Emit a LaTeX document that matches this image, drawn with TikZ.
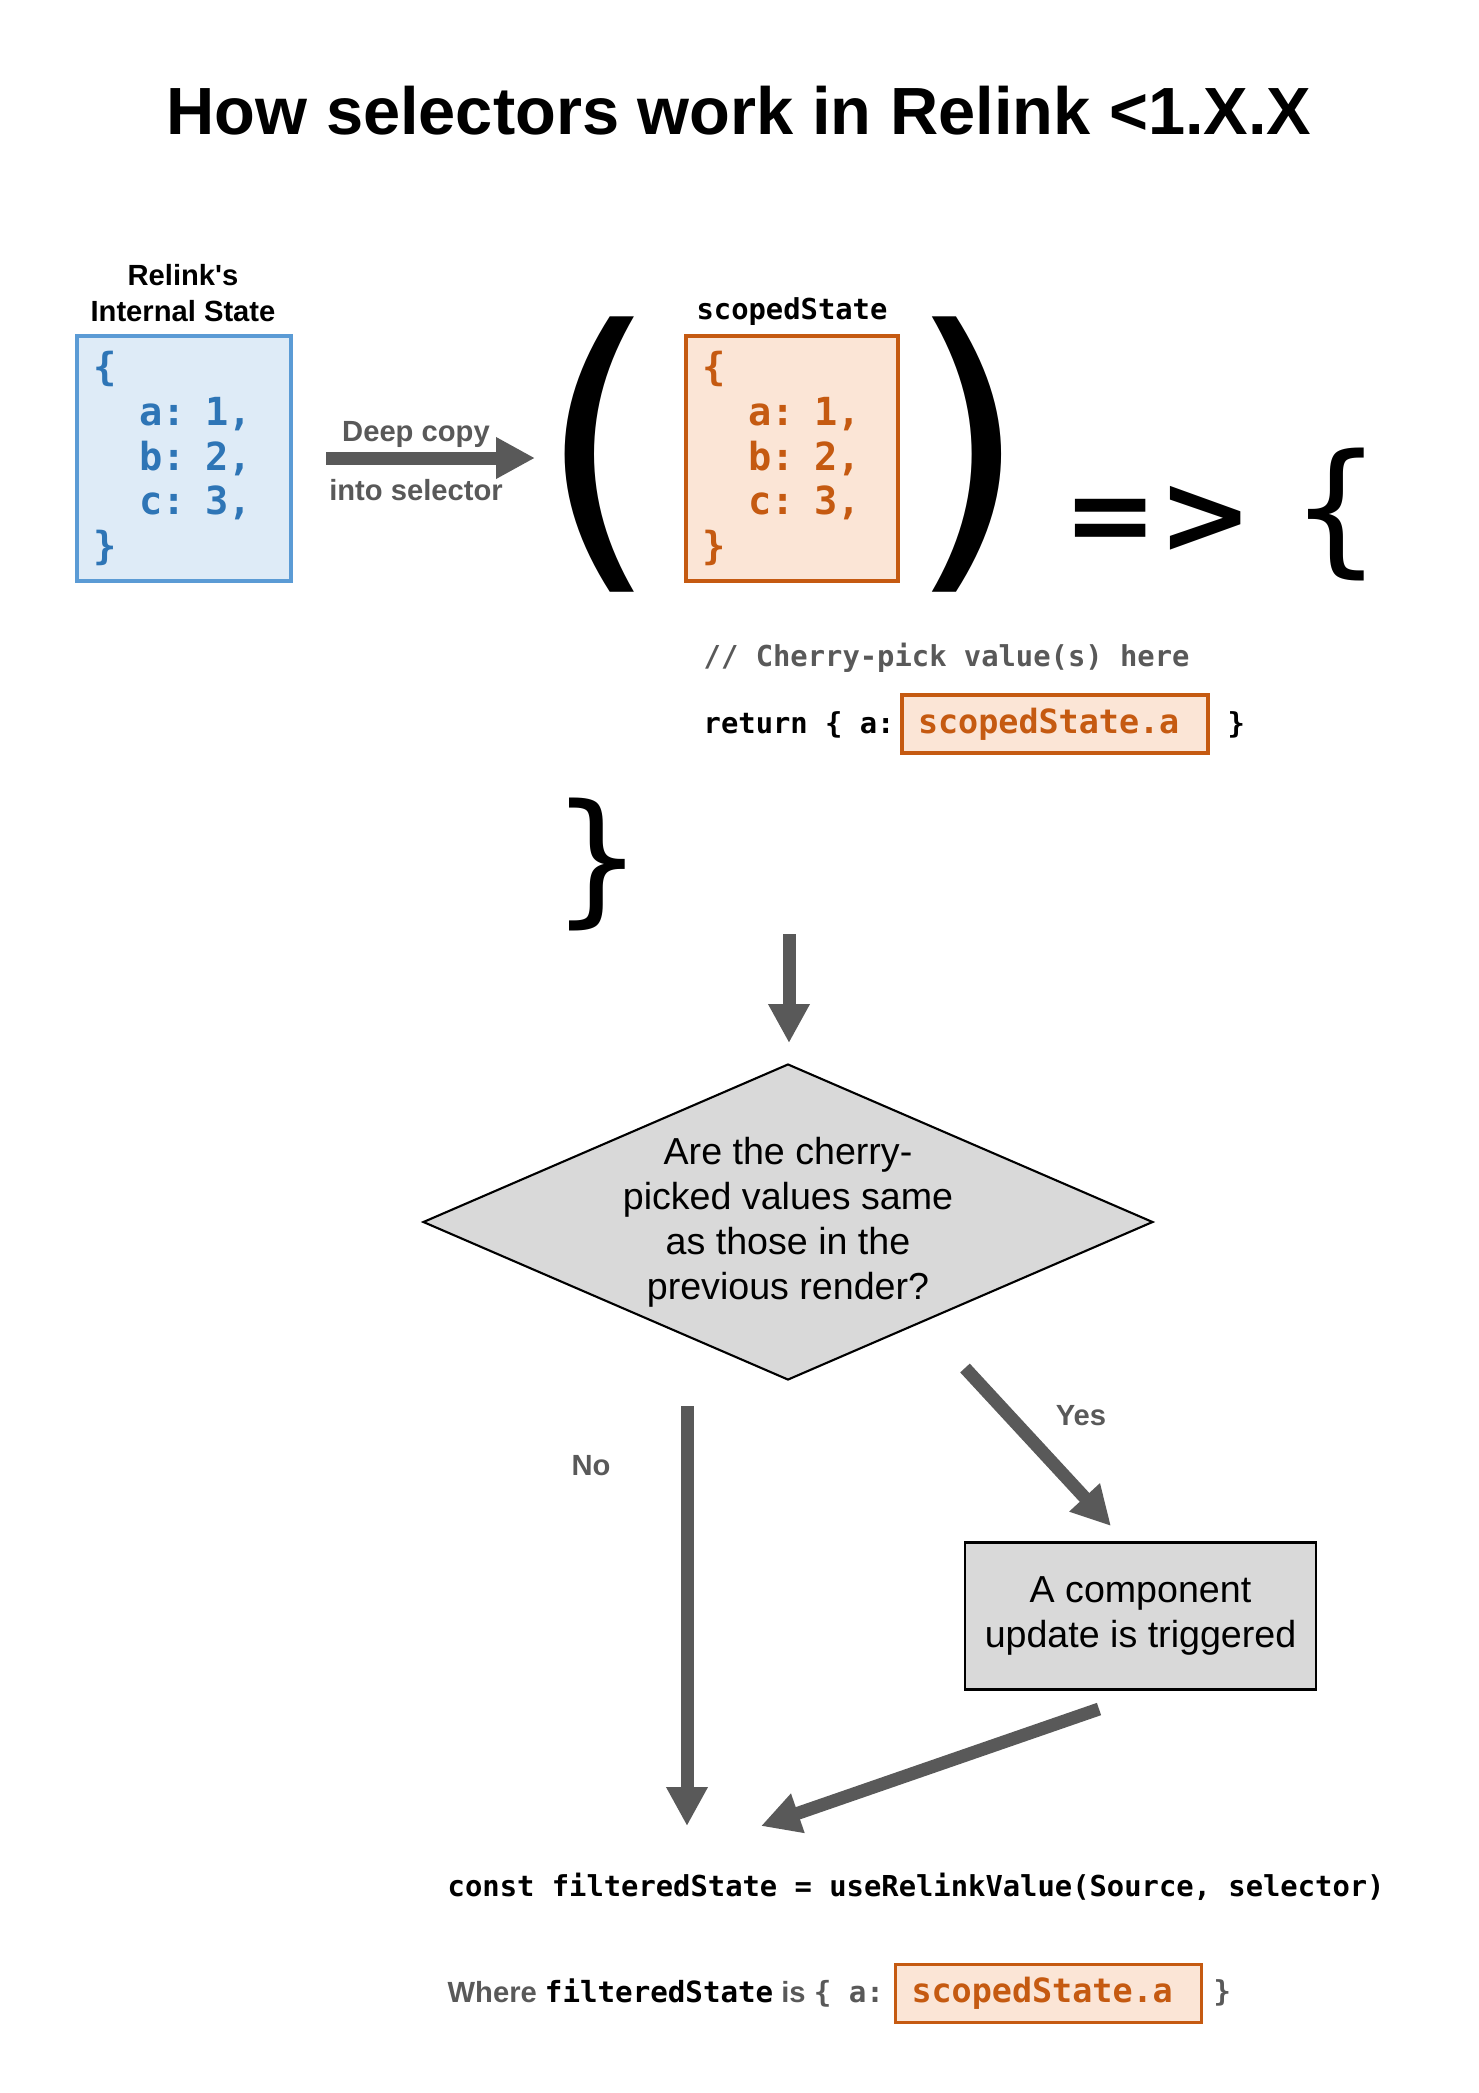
\documentclass[tikz,border=0pt]{standalone}
\usepackage{fontspec}
\setmainfont{Liberation Sans}
\newfontfamily\codefont{DejaVu Sans Mono}
\newfontfamily\symfont{DejaVu Sans}
\usetikzlibrary{arrows.meta,positioning,shapes.geometric}
\definecolor{arrowgray}{HTML}{595959}
\definecolor{blueline}{HTML}{5B9BD5}
\definecolor{bluefill}{HTML}{DEEBF7}
\definecolor{bluetext}{HTML}{2E75B6}
\definecolor{orangeline}{HTML}{C55A11}
\definecolor{orangefill}{HTML}{FBE5D6}
\definecolor{boxgray}{HTML}{D9D9D9}
\tikzset{
  codebox/.style={line width=1.4pt,align=left,inner xsep=1.6mm,inner ysep=0.5mm,
                  minimum height=24.5mm,
                  font=\codefont\bfseries\fontsize{11}{12.7}\selectfont},
  bluebox/.style={codebox,draw=blueline,fill=bluefill,text=bluetext,text width=18.2mm},
  orangebox/.style={codebox,draw=orangeline,fill=orangefill,text=orangeline,
                    text width=18mm},
  pickbox/.style={draw=orangeline,fill=orangefill,text=orangeline,line width=1.1pt,
                  align=left,inner xsep=1.6mm,inner ysep=0pt,text width=27.4mm,
                  minimum height=5.8mm,
                  font=\codefont\bfseries\fontsize{9.5}{11}\selectfont},
  codenote/.style={inner sep=0pt,font=\codefont\bfseries\fontsize{8.2}{10}\selectfont},
  sidenote/.style={align=center,text=arrowgray,
                   font=\bfseries\fontsize{8.3}{10}\selectfont},
  bigsym/.style={inner sep=0pt,font=\symfont\fontsize{#1}{#1}\selectfont},
  decision/.style={diamond,draw=black,fill=boxgray,line width=0.6pt,aspect=2.31,
                   minimum width=73mm,minimum height=31.6mm,inner sep=0pt,
                   align=center,font=\fontsize{10.7}{12.8}\selectfont},
  process/.style={rectangle,draw=black,fill=boxgray,line width=0.6pt,
                  minimum width=35.1mm,minimum height=14.7mm,align=center,
                  font=\fontsize{10.7}{12.6}\selectfont},
  fatarr/.style={-{Triangle[length=3.9mm,width=3.9mm]},line width=1.3mm,
                 draw=arrowgray}
}
\begin{document}
\begin{tikzpicture}[x=0.1mm,y=-0.1mm]
  \useasboundingbox (0,0) rectangle (1479,2093);

  \node[font=\bfseries\fontsize{19}{23}\selectfont] (title) at (739,111)
    {How selectors work in Relink <1.X.X};

  % state handed to the selector
  \node[sidenote,text=black] (internallabel) at (183,293)
    {Relink\textquotesingle s\\Internal State};
  \node[bluebox] (internal) at (184,458.5)
    {\{\\\phantom{xx}a: 1,\\\phantom{xx}b: 2,\\\phantom{xx}c: 3,\\\}};

  \coordinate (copystart) at (326,458);
  \coordinate (copyend) at (535,458);
  \draw[fatarr] (copystart) -- (copyend);
  \node[sidenote] (copytop) at (416,434) {Deep copy};
  \node[sidenote] (copybottom) at (416,490) {into selector};

  \node[bigsym=88] (openparen) at (599,455) {(};
  \node[codenote] (scopedlabel) at (792,312) {scopedState};
  \node[orangebox] (scoped) at (792,458.5)
    {\{\\\phantom{xx}a: 1,\\\phantom{xx}b: 2,\\\phantom{xx}c: 3,\\\}};
  \node[bigsym=88] (closeparen) at (968,455) {)};
  \node[bigsym=32,font=\symfont\bfseries\fontsize{32}{32}\selectfont]
    (arrowsym) at (1158,520) {=>};
  \node[bigsym=41] (openbrace) at (1336,514) {\{};

  % selector body
  \node[codenote,text=arrowgray,anchor=west] (comment) at (703,658)
    {// Cherry-pick value(s) here};
  \node[codenote,anchor=west] (returnkw) at (703,725) {return \{ a:};
  \node[pickbox] (pickreturn) at (1055,724) {scopedState.a};
  \node[codenote,anchor=west] (returnclose) at (1227,725) {\}};
  \node[bigsym=41] (closebrace) at (597,864) {\}};

  \coordinate (checkstart) at (789,934);
  \coordinate (checkend) at (789,1043);
  \draw[fatarr] (checkstart) -- (checkend);

  \node[decision] (samecheck) at (788,1222)
    {Are the cherry-\\picked values same\\as those in the\\previous render?};

  % no branch
  \coordinate (nostart) at (687,1406);
  \coordinate (noend) at (687,1826);
  \draw[fatarr] (nostart) -- (noend);
  \node[sidenote] (nolabel) at (591,1466) {No};

  % yes branch
  \coordinate (yesstart) at (965,1368);
  \coordinate (yesend) at (1111,1526);
  \draw[fatarr] (yesstart) -- (yesend);
  \node[sidenote] (yeslabel) at (1081,1416) {Yes};
  \node[process] (update) at (1140.5,1616) {A component\\update is triggered};
  \coordinate (mergestart) at (1099,1709);
  \coordinate (mergeend) at (761,1826);
  \draw[fatarr] (mergestart) -- (mergeend);

  \node[codenote,anchor=west] (hookcall) at (447,1887)
    {const filteredState = useRelinkValue(Source, selector)};
  \node[anchor=west,inner sep=0pt,text=arrowgray,
        font=\bfseries\fontsize{8.3}{10}\selectfont] (wherenote) at (447,1993)
    {Where {\codefont\color{black}filteredState} is {\codefont\{ a:}};
  \node[pickbox] (pickresult) at (1048.5,1993.5) {scopedState.a};
  \node[codenote,text=arrowgray,anchor=west] (resultclose) at (1213,1993) {\}};
\end{tikzpicture}
\end{document}
